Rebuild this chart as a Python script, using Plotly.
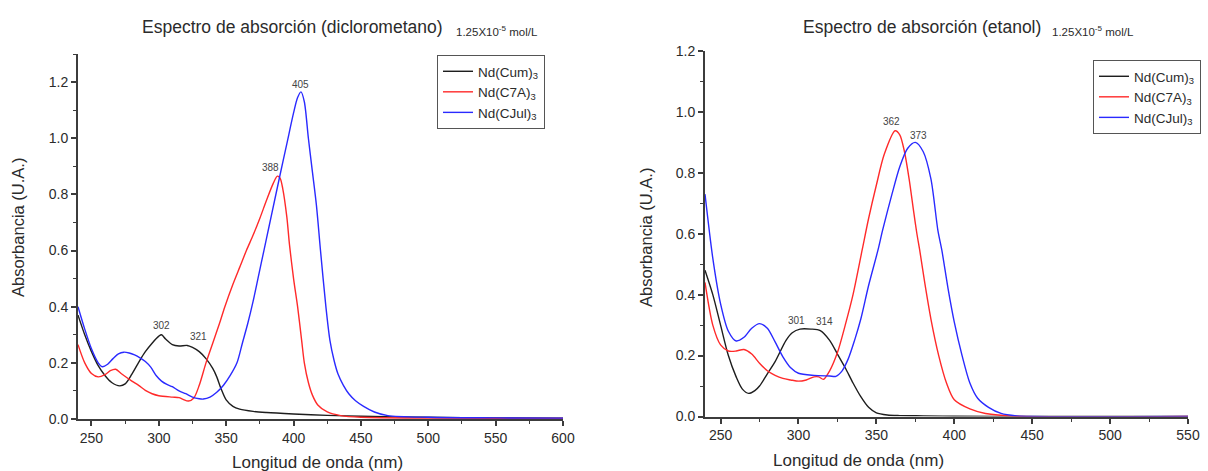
import numpy as np
import plotly.graph_objects as go

# ---------------- Data: dichloromethane (left) ----------------
dcm_cum_x = [240, 245, 250, 255, 260, 265, 271, 275, 280, 286, 290, 295, 300, 302, 305, 310, 315, 321, 325, 330, 335, 340, 343, 346, 350, 355, 360, 370, 380, 400, 425, 450, 500, 550, 600]
dcm_cum_y = [0.37, 0.30, 0.24, 0.19, 0.155, 0.13, 0.118, 0.125, 0.16, 0.21, 0.24, 0.27, 0.295, 0.30, 0.285, 0.265, 0.26, 0.262, 0.255, 0.24, 0.215, 0.18, 0.15, 0.11, 0.068, 0.045, 0.035, 0.027, 0.023, 0.018, 0.013, 0.01, 0.006, 0.004, 0.003]

dcm_c7a_x = [240, 245, 250, 255, 260, 264, 268, 272, 280, 285, 290, 295, 300, 310, 315, 318, 322, 326, 330, 335, 340, 345, 349, 355, 360, 365, 370, 375, 380, 385, 388, 390, 392, 395, 397, 400, 403, 406, 408, 411, 414, 418, 425, 435, 450, 500, 600]
dcm_c7a_y = [0.265, 0.2, 0.162, 0.15, 0.158, 0.172, 0.177, 0.162, 0.135, 0.12, 0.102, 0.09, 0.083, 0.078, 0.076, 0.07, 0.064, 0.075, 0.12, 0.2, 0.27, 0.34, 0.4, 0.48, 0.54, 0.6, 0.655, 0.715, 0.78, 0.84, 0.865, 0.858, 0.82, 0.72, 0.62, 0.5, 0.4, 0.28, 0.2, 0.13, 0.085, 0.05, 0.025, 0.012, 0.006, 0.003, 0.002]

dcm_cjul_x = [240, 245, 250, 255, 258, 262, 266, 270, 274, 278, 282, 286, 290, 294, 298, 302, 306, 310, 315, 320, 325, 330, 333, 338, 343, 348, 353, 358, 362, 366, 370, 374, 378, 382, 386, 390, 395, 400, 403, 405.5, 408, 411, 414, 417, 420, 424, 427, 430, 433, 437, 441, 446, 452, 460, 470, 500, 550, 600]
dcm_cjul_y = [0.40, 0.32, 0.25, 0.2, 0.186, 0.195, 0.215, 0.232, 0.238, 0.235, 0.228, 0.218, 0.205, 0.185, 0.155, 0.135, 0.123, 0.115, 0.1, 0.09, 0.078, 0.072, 0.071, 0.078, 0.095, 0.12, 0.155, 0.2, 0.27, 0.34, 0.42, 0.51, 0.6, 0.69, 0.78, 0.87, 0.98, 1.09, 1.145, 1.165, 1.13, 1.0, 0.88, 0.76, 0.6, 0.4, 0.28, 0.21, 0.16, 0.12, 0.09, 0.065, 0.045, 0.025, 0.012, 0.006, 0.004, 0.003]

# ---------------- Data: ethanol (right) ----------------
eth_cum_x = [240, 245, 250, 255, 260, 264, 268, 272, 275, 280, 285, 292, 296, 301, 308, 314, 320, 325, 330, 335, 340, 345, 350, 357, 365, 380, 400, 450, 550]
eth_cum_y = [0.48, 0.4, 0.3, 0.2, 0.13, 0.09, 0.076, 0.085, 0.1, 0.14, 0.18, 0.25, 0.275, 0.287, 0.287, 0.282, 0.25, 0.205, 0.16, 0.11, 0.065, 0.03, 0.012, 0.005, 0.003, 0.002, 0.001, 0.0, 0.0]

eth_c7a_x = [240, 245, 250, 255, 260, 265, 270, 275, 280, 285, 290, 295, 300, 305, 310, 313, 316, 320, 325, 330, 335, 341, 345, 350, 355, 362, 365, 368, 371, 374, 376, 378, 381, 385, 390, 395, 400, 410, 420, 440, 550]
eth_c7a_y = [0.44, 0.3, 0.235, 0.215, 0.215, 0.22, 0.205, 0.175, 0.15, 0.135, 0.125, 0.12, 0.116, 0.12, 0.13, 0.13, 0.122, 0.15, 0.21, 0.3, 0.4, 0.55, 0.65, 0.76, 0.86, 0.938, 0.925, 0.87, 0.78, 0.67, 0.6, 0.54, 0.44, 0.32, 0.2, 0.11, 0.055, 0.025, 0.01, 0.001, 0.0]

eth_cjul_x = [240, 245, 250, 255, 260, 265, 270, 275, 280, 285, 290, 295, 300, 310, 320, 324, 328, 332, 336, 340, 345, 351, 354, 360, 365, 370, 375, 380, 385, 389.5, 392, 396, 400, 405, 410, 415, 422, 430, 440, 450, 550]
eth_cjul_y = [0.73, 0.52, 0.37, 0.28, 0.248, 0.26, 0.29, 0.305, 0.29, 0.245, 0.196, 0.16, 0.142, 0.135, 0.133, 0.132, 0.15, 0.19, 0.25, 0.32, 0.43, 0.546, 0.612, 0.73, 0.82, 0.88, 0.9, 0.87, 0.78, 0.61, 0.546, 0.42, 0.31, 0.2, 0.11, 0.06, 0.03, 0.01, 0.002, 0.0, 0.0]

series_names = ["Nd(Cum)<sub>3</sub>", "Nd(C7A)<sub>3</sub>", "Nd(CJul)<sub>3</sub>"]
colors = ["#1e1e1e", "#ff2a2a", "#2a2aff"]

# peak labels: (wavelength, series index, pixel x-shift)
left_peaks = [(302, 0, 0), (321, 0, 11), (388, 1, -7), (405, 2, 0)]
right_peaks = [(301, 0, -4), (314, 0, 4), (362, 1, -4), (373, 2, 6)]

titles = ["Espectro de absorción (diclorometano)", "Espectro de absorción (etanol)"]
conc_label = "1.25X10<sup>-5</sup> mol/L"
x_title = "Longitud de onda (nm)"
y_title = "Absorbancia (U.A.)"

FONT = "Arial, Liberation Sans, sans-serif"
AX = "#3c3c3c"
TXT = "#2b2b2b"
W, H = 1208, 471

fig = go.Figure()
left_data = [(dcm_cum_x, dcm_cum_y), (dcm_c7a_x, dcm_c7a_y), (dcm_cjul_x, dcm_cjul_y)]
right_data = [(eth_cum_x, eth_cum_y), (eth_c7a_x, eth_c7a_y), (eth_cjul_x, eth_cjul_y)]

for i, (xs, ys) in enumerate(left_data):
    fig.add_trace(go.Scatter(x=xs, y=ys, mode="lines", name=series_names[i],
                             line=dict(color=colors[i], width=1.4, shape="spline", smoothing=0.8),
                             xaxis="x", yaxis="y", legend="legend"))
for i, (xs, ys) in enumerate(right_data):
    fig.add_trace(go.Scatter(x=xs, y=ys, mode="lines", name=series_names[i],
                             line=dict(color=colors[i], width=1.4, shape="spline", smoothing=0.8),
                             xaxis="x2", yaxis="y2", legend="legend2"))

annotations = []
for (wl, si, xs), ref in [(p, ("x", "y", left_data)) for p in left_peaks] + [(p, ("x2", "y2", right_data)) for p in right_peaks]:
    xr, yr, data = ref
    yv = float(np.interp(wl, data[si][0], data[si][1]))
    annotations.append(dict(x=wl, y=yv, xref=xr, yref=yr, text=str(wl), showarrow=False,
                            xshift=xs, yshift=9, font=dict(family=FONT, size=10, color="#444444")))


def pa(px, py, text, size, xanchor="center", yanchor="middle", angle=0):
    return dict(x=px / W, y=1 - py / H, xref="paper", yref="paper", showarrow=False,
                xanchor=xanchor, yanchor=yanchor, textangle=angle, text=text,
                font=dict(family=FONT, size=size, color=TXT))


# titles
annotations.append(pa(445, 27, titles[0], 17.5, xanchor="right"))
annotations.append(pa(454, 31, conc_label, 11.5, xanchor="left"))
annotations.append(pa(1043, 27, titles[1], 17.5, xanchor="right"))
annotations.append(pa(1050, 31, conc_label, 11.5, xanchor="left"))
# axis titles
annotations.append(pa(317, 462, x_title, 17))
annotations.append(pa(858, 460, x_title, 17))
annotations.append(pa(18, 228, y_title, 16.5, angle=-90))
annotations.append(pa(646, 238, y_title, 16.5, angle=-90))

axis_common = dict(showline=True, linecolor=AX, linewidth=2, ticks="outside", tickcolor=AX, tickwidth=1.5,
                   ticklen=5, showgrid=False, zeroline=False, mirror=False, automargin=False,
                   tickfont=dict(family=FONT, size=14, color=TXT))
xminor = dict(ticks="outside", ticklen=3, tickcolor=AX, tickwidth=1.2, dtick=25, tick0=250)
yminor = dict(ticks="outside", ticklen=3, tickcolor=AX, tickwidth=1.2, dtick=0.1)

fig.update_layout(
    width=W, height=H, margin=dict(l=0, r=0, t=0, b=0),
    paper_bgcolor="white", plot_bgcolor="white",
    annotations=annotations,
    xaxis=dict(domain=[78 / W, 563 / W], range=[240, 600], tick0=250, dtick=50, anchor="y",
               minor=xminor, **axis_common),
    yaxis=dict(domain=[(H - 419) / H, (H - 54) / H], range=[0, 1.3], dtick=0.2, tickformat=".1f", anchor="x",
               minor=yminor, **axis_common),
    xaxis2=dict(domain=[705 / W, 1188 / W], range=[240, 550], tick0=250, dtick=50, anchor="y2",
                minor=xminor, **axis_common),
    yaxis2=dict(domain=[(H - 416.5) / H, (H - 51) / H], range=[0, 1.2], dtick=0.2, tickformat=".1f", anchor="x2",
                minor=yminor, **axis_common),
    legend=dict(x=437 / W, y=1 - 55 / H, xanchor="left", yanchor="top", bgcolor="white",
                bordercolor="#555555", borderwidth=1, font=dict(family=FONT, size=13.5, color=TXT),
                itemwidth=30, tracegroupgap=0),
    legend2=dict(x=1093 / W, y=1 - 60 / H, xanchor="left", yanchor="top", bgcolor="white",
                 bordercolor="#555555", borderwidth=1, font=dict(family=FONT, size=13.5, color=TXT),
                 itemwidth=30, tracegroupgap=0),
)

fig.write_html("out.html")
